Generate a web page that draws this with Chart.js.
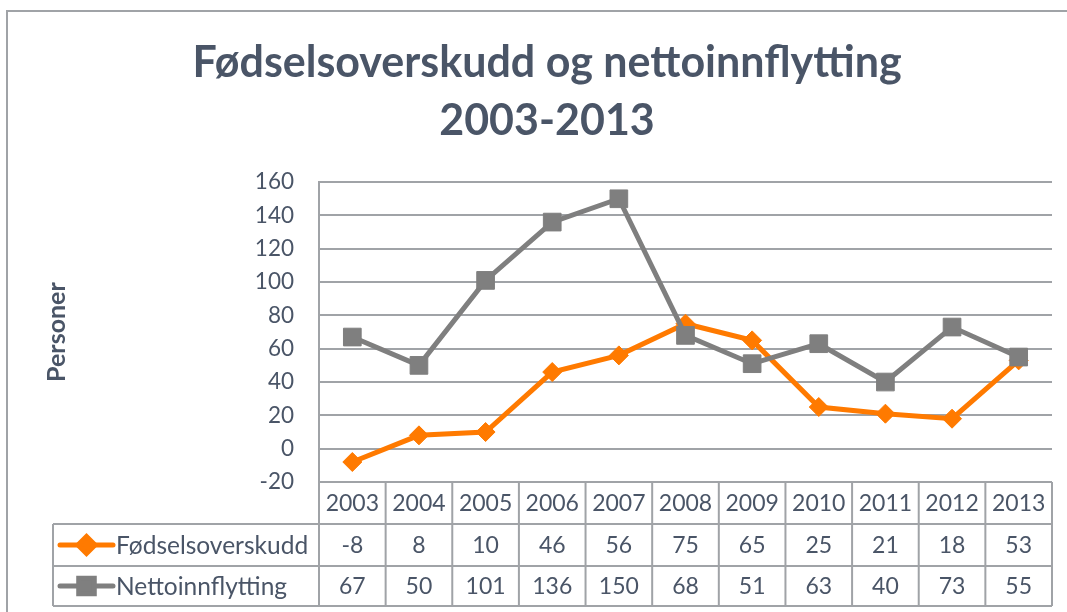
<!DOCTYPE html>
<html>
<head>
<meta charset="utf-8">
<script src="https://cdn.jsdelivr.net/npm/chart.js@4.4.1/dist/chart.umd.min.js"></script>
<style>
html,body{margin:0;padding:0;background:#fff;}
#wrap{position:relative;width:1067px;height:612px;}
</style>
</head>
<body>
<div id="wrap"><canvas id="c" width="1067" height="612"></canvas></div>
<script>
// ---- data ----
const years = ['2003','2004','2005','2006','2007','2008','2009','2010','2011','2012','2013'];
const fodselsoverskudd = [-8, 8, 10, 46, 56, 75, 65, 25, 21, 18, 53];
const nettoinnflytting = [67, 50, 101, 136, 150, 68, 51, 63, 40, 73, 55];
const yTicks = [-20, 0, 20, 40, 60, 80, 100, 120, 140, 160];
const seriesNames = ['Fødselsoverskudd', 'Nettoinnflytting'];
const titleLines = ['Fødselsoverskudd og nettoinnflytting', '2003-2013'];
const yAxisTitle = 'Personer';

// ---- styles ----
const TEXT = '#4A5567';
const GRID = '#A0A3A7';
const ORANGE = '#FF7A00';
const GRAY = '#7F7F7F';
const FONT = 'Lato';

const tablePlugin = {
  id: 'dataTable',
  beforeDraw(chart) {
    const ctx = chart.ctx;
    ctx.save();
    ctx.fillStyle = '#fff';
    ctx.fillRect(0, 0, chart.width, chart.height);
    ctx.strokeStyle = GRID;
    ctx.lineWidth = 2;
    ctx.beginPath();
    ctx.moveTo(7, chart.height);
    ctx.lineTo(7, 11);
    ctx.lineTo(chart.width, 11);
    ctx.stroke();
    ctx.restore();
  },
  afterDraw(chart) {
    const ctx = chart.ctx;
    const xs = chart.scales.x;
    const ca = chart.chartArea;
    const half = (xs.getPixelForValue(1) - xs.getPixelForValue(0)) / 2;
    const left = xs.getPixelForValue(0) - half;
    const right = xs.getPixelForValue(years.length - 1) + half;
    const rowY = [ca.bottom, ca.bottom + 42, ca.bottom + 84, ca.bottom + 124];
    const legendLeft = 53;
    ctx.save();
    ctx.strokeStyle = GRID;
    ctx.lineWidth = 2;
    ctx.beginPath();
    ctx.moveTo(left, rowY[0]); ctx.lineTo(right, rowY[0]);
    for (let r = 1; r < 4; r++) { ctx.moveTo(legendLeft, rowY[r]); ctx.lineTo(right, rowY[r]); }
    for (let i = 0; i <= years.length; i++) {
      const x = left + i * 2 * half;
      ctx.moveTo(x, rowY[0]); ctx.lineTo(x, rowY[3]);
    }
    ctx.moveTo(legendLeft, rowY[1]); ctx.lineTo(legendLeft, rowY[3]);
    ctx.stroke();

    ctx.fillStyle = TEXT;
    ctx.font = '23px ' + FONT;
    ctx.textAlign = 'center';
    ctx.textBaseline = 'middle';
    const rows = [fodselsoverskudd, nettoinnflytting];
    years.forEach((y, i) => {
      const cx = xs.getPixelForValue(i);
      ctx.fillText(y, cx, (rowY[0] + rowY[1]) / 2 + 1);
      rows.forEach((arr, r) => {
        ctx.fillText(String(arr[i]), cx, (rowY[r + 1] + rowY[r + 2]) / 2 + 1);
      });
    });
    // legend keys
    seriesNames.forEach((name, r) => {
      const ds = chart.data.datasets.find(d => d.label === name);
      const cy = (rowY[r + 1] + rowY[r + 2]) / 2;
      ctx.strokeStyle = ds.borderColor;
      ctx.lineWidth = 5;
      ctx.lineCap = 'round';
      ctx.beginPath();
      ctx.moveTo(legendLeft + 7, cy); ctx.lineTo(legendLeft + 60, cy);
      ctx.stroke();
      ctx.fillStyle = ds.borderColor;
      Chart.helpers.drawPoint(ctx, {
        pointStyle: ds.pointStyle,
        radius: ds.pointStyle === 'rect' ? 11 : 8.5,
        rotation: 0,
        borderWidth: 1
      }, legendLeft + 33.5, cy);
      ctx.fillStyle = TEXT;
      ctx.textAlign = 'left';
      ctx.font = '24.5px ' + FONT;
      ctx.fillText(name, legendLeft + 63, cy + 1);
    });
    ctx.restore();
  }
};

new Chart(document.getElementById('c'), {
  type: 'line',
  data: {
    labels: years,
    datasets: [
      {
        label: seriesNames[0],
        data: fodselsoverskudd,
        borderColor: ORANGE,
        backgroundColor: ORANGE,
        borderWidth: 5,
        pointStyle: 'rectRot',
        pointRadius: 9.5,
        pointBorderWidth: 1,
        tension: 0,
        order: 2
      },
      {
        label: seriesNames[1],
        data: nettoinnflytting,
        borderColor: GRAY,
        backgroundColor: GRAY,
        borderWidth: 5,
        pointStyle: 'rect',
        pointRadius: 12.5,
        pointBorderWidth: 1,
        tension: 0,
        order: 1
      }
    ]
  },
  options: {
    responsive: false,
    animation: false,
    devicePixelRatio: 1,
    layout: { padding: { left: 42, right: 15, top: 0, bottom: 0 } },
    plugins: {
      legend: { display: false },
      tooltip: { enabled: false },
      title: {
        display: true,
        text: titleLines,
        color: TEXT,
        font: { family: FONT, size: 43, weight: 'bold', lineHeight: 1.35 },
        padding: { top: 34, bottom: 32 }
      }
    },
    scales: {
      x: {
        type: 'category',
        offset: true,
        ticks: { display: false },
        grid: { display: false },
        border: { display: false },
        afterFit(s) { s.height = 130; }
      },
      y: {
        min: -20,
        max: 160,
        afterBuildTicks(s) { s.ticks = yTicks.map(v => ({ value: v })); },
        ticks: {
          color: TEXT,
          font: { family: FONT, size: 22.5 },
          padding: 25
        },
        grid: { color: GRID, lineWidth: 2, drawTicks: false },
        border: { display: true, color: GRID, width: 2 },
        title: {
          display: true,
          text: yAxisTitle,
          color: TEXT,
          font: { family: FONT, size: 25, weight: 'bold', lineHeight: 1.2 },
          padding: 0
        },
        afterFit(s) { s.width = 277; }
      }
    }
  },
  plugins: [tablePlugin]
});
</script>
</body>
</html>
